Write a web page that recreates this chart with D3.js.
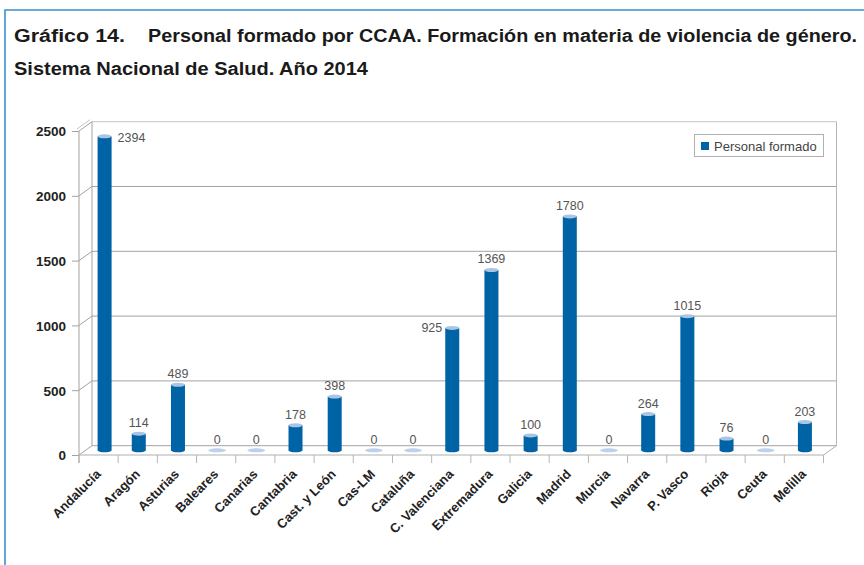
<!DOCTYPE html>
<html>
<head>
<meta charset="utf-8">
<script src="https://cdn.jsdelivr.net/npm/d3@7"></script>
<style>
  html, body { margin: 0; padding: 0; background: #fff; }
  svg { display: block; }
</style>
</head>
<body>
<svg id="chart" width="864" height="565"></svg>
<script>
// Personal formado por comunidad autónoma, 2014
const categories = ["Andalucía", "Aragón", "Asturias", "Baleares", "Canarias", "Cantabria",
  "Cast. y León", "Cas-LM", "Cataluña", "C. Valenciana", "Extremadura", "Galicia", "Madrid",
  "Murcia", "Navarra", "P. Vasco", "Rioja", "Ceuta", "Melilla"];
const values = [2394, 114, 489, 0, 0, 178, 398, 0, 0, 925, 1369, 100, 1780, 0, 264, 1015, 76, 0, 203];
const yTicks = [0, 500, 1000, 1500, 2000, 2500];
const seriesName = "Personal formado";

const svg = d3.select("#chart");
const BAR = "#0063a5", BAR_TOP = "#a9c5e3", ZERO = "#bcd2ea", GRID = "#a3a3a3";
const depthX = 13, depthY = -9.3;

// outer frame
svg.append("path").attr("d", "M5,565V10H864")
  .attr("fill", "none").attr("stroke", "#3a8fd0").attr("stroke-width", 1.6);

// title
const titleFont = "'Liberation Sans Narrow','Arial Narrow','Liberation Sans',Arial,sans-serif";
function fitText(x, y, str, width, weight) {
  svg.append("text").attr("x", x).attr("y", y).text(str)
    .attr("font-family", titleFont).attr("font-size", 17.5).attr("font-weight", weight)
    .attr("fill", "#1a1a1a")
    .attr("textLength", width).attr("lengthAdjust", "spacingAndGlyphs");
}
fitText(14, 42, "Gráfico 14.", 111, 900);
fitText(148, 42, "Personal formado por CCAA. Formación en materia de violencia de género.", 709, 700);
fitText(14, 75, "Sistema Nacional de Salud. Año 2014", 354, 700);

// scales: front plane for axes, inner plane for the cylinders
const x = d3.scaleBand().domain(categories).range([79, 823.5]).padding(0);
const y = d3.scaleLinear().domain([0, 2500]).range([455, 131]);
const yBar = d3.scaleLinear().domain([0, 2500]).range([448.5, 122.5]);

const x0 = x.range()[0], x1 = x.range()[1];
const g = svg.append("g");

// back wall gridlines
g.selectAll("line.grid").data(yTicks).join("line")
  .attr("class", "grid")
  .attr("x1", x0 + depthX).attr("x2", x1 + depthX)
  .attr("y1", d => y(d) + depthY).attr("y2", d => y(d) + depthY)
  .attr("stroke", d => d === 2500 ? "#c4c4c4" : GRID).attr("stroke-width", 1);

// left wall: diagonals at each tick
g.selectAll("line.wall").data(yTicks).join("line")
  .attr("class", "wall")
  .attr("x1", x0).attr("x2", x0 + depthX)
  .attr("y1", d => y(d)).attr("y2", d => y(d) + depthY)
  .attr("stroke", GRID);
// wall verticals
g.append("line").attr("x1", x0 + depthX).attr("x2", x0 + depthX)
  .attr("y1", y(2500) + depthY).attr("y2", y(0) + depthY).attr("stroke", GRID);
g.append("line").attr("x1", x1 + depthX).attr("x2", x1 + depthX)
  .attr("y1", y(2500) + depthY).attr("y2", y(0) + depthY).attr("stroke", "#b5b5b5");
g.append("line").attr("x1", x0 - 2).attr("x2", x0 + depthX - 2)
  .attr("y1", y(2500) - 2).attr("y2", y(2500) + depthY - 2).attr("stroke", "#c4c4c4");
// floor front edge and right edge
g.append("line").attr("x1", x0).attr("x2", x1)
  .attr("y1", y(0)).attr("y2", y(0)).attr("stroke", "#b0b0b0").attr("stroke-width", 1.2);
g.append("line").attr("x1", x1).attr("x2", x1 + depthX)
  .attr("y1", y(0)).attr("y2", y(0) + depthY).attr("stroke", "#b0b0b0");

// y axis (front)
const yAxis = g.append("g").attr("transform", `translate(${x0},0)`)
  .call(d3.axisLeft(y).tickValues(yTicks).tickSize(7).tickPadding(6).tickFormat(d3.format("d")));
yAxis.select(".domain").attr("stroke", GRID).attr("d", `M0,${y(2500)}V${y(0) + 8}`);
yAxis.selectAll(".tick line").attr("stroke", GRID);
yAxis.selectAll(".tick text")
  .attr("font-family", "'Liberation Sans',Arial,sans-serif")
  .attr("font-size", 13.5).attr("font-weight", 700).attr("fill", "#222")
  .attr("dy", "0.36em");

// x axis: boundary ticks and rotated labels
const bounds = categories.map(c => x(c)).concat([x1]);
g.selectAll("line.xtick").data(bounds).join("line")
  .attr("class", "xtick")
  .attr("x1", d => d).attr("x2", d => d)
  .attr("y1", y(0)).attr("y2", y(0) + 8)
  .attr("stroke", "#b5b5b5");

const xAxis = g.append("g").attr("transform", `translate(0,${y(0)})`)
  .call(d3.axisBottom(x).tickSize(0).tickPadding(0));
xAxis.select(".domain").remove();
xAxis.selectAll(".tick text")
  .attr("font-family", "'Liberation Sans',Arial,sans-serif")
  .attr("font-size", 13).attr("font-weight", 700).attr("fill", "#222")
  .attr("text-anchor", "end")
  .attr("transform", "translate(3,20) rotate(-45)")
  .attr("dy", 0).attr("y", 0);

// cylinders (the first one sits slightly clear of the side wall)
const barNudge = { "Andalucía": 5 };
const cx = c => x(c) + x.bandwidth() / 2 + 1 + (barNudge[c] || 0);
const baseY = 450.3;
const data = categories.map((c, i) => ({ c, v: values[i] }));
const bars = g.append("g");
data.forEach(d => {
  if (d.v > 0) {
    const top = yBar(d.v);
    bars.append("rect").attr("x", cx(d.c) - 7).attr("y", top)
      .attr("width", 14).attr("height", baseY - top).attr("fill", BAR);
    bars.append("ellipse").attr("cx", cx(d.c)).attr("cy", baseY)
      .attr("rx", 7).attr("ry", 2).attr("fill", BAR);
    bars.append("ellipse").attr("cx", cx(d.c)).attr("cy", top)
      .attr("rx", 7).attr("ry", 2).attr("fill", BAR_TOP);
  } else {
    bars.append("ellipse").attr("cx", cx(d.c)).attr("cy", baseY)
      .attr("rx", 9).attr("ry", 2).attr("fill", ZERO);
  }
});

// value labels
const labelSide = { "Andalucía": "right", "C. Valenciana": "left" };
g.append("g").selectAll("text").data(data).join("text")
  .attr("font-family", "'Liberation Sans',Arial,sans-serif")
  .attr("font-size", 12.5).attr("fill", "#555")
  .each(function (d) {
    const t = d3.select(this);
    const top = d.v > 0 ? yBar(d.v) : baseY;
    const side = labelSide[d.c];
    if (side === "right") {
      t.attr("x", cx(d.c) + 13).attr("y", top + 6).attr("text-anchor", "start");
    } else if (side === "left") {
      t.attr("x", cx(d.c) - 10).attr("y", top + 4).attr("text-anchor", "end");
    } else {
      t.attr("x", cx(d.c)).attr("y", top - 6.5).attr("text-anchor", "middle");
    }
  })
  .text(d => d.v);

// legend
const lg = svg.append("g");
lg.append("rect").attr("x", 694.5).attr("y", 134.5).attr("width", 129).attr("height", 22)
  .attr("fill", "#fff").attr("stroke", "#b0b0b0");
lg.append("rect").attr("x", 701).attr("y", 142).attr("width", 8).attr("height", 8).attr("fill", BAR);
lg.append("text").attr("x", 714).attr("y", 150.5).text(seriesName)
  .attr("font-family", "'Liberation Sans',Arial,sans-serif")
  .attr("font-size", 13).attr("fill", "#444");
</script>
</body>
</html>
